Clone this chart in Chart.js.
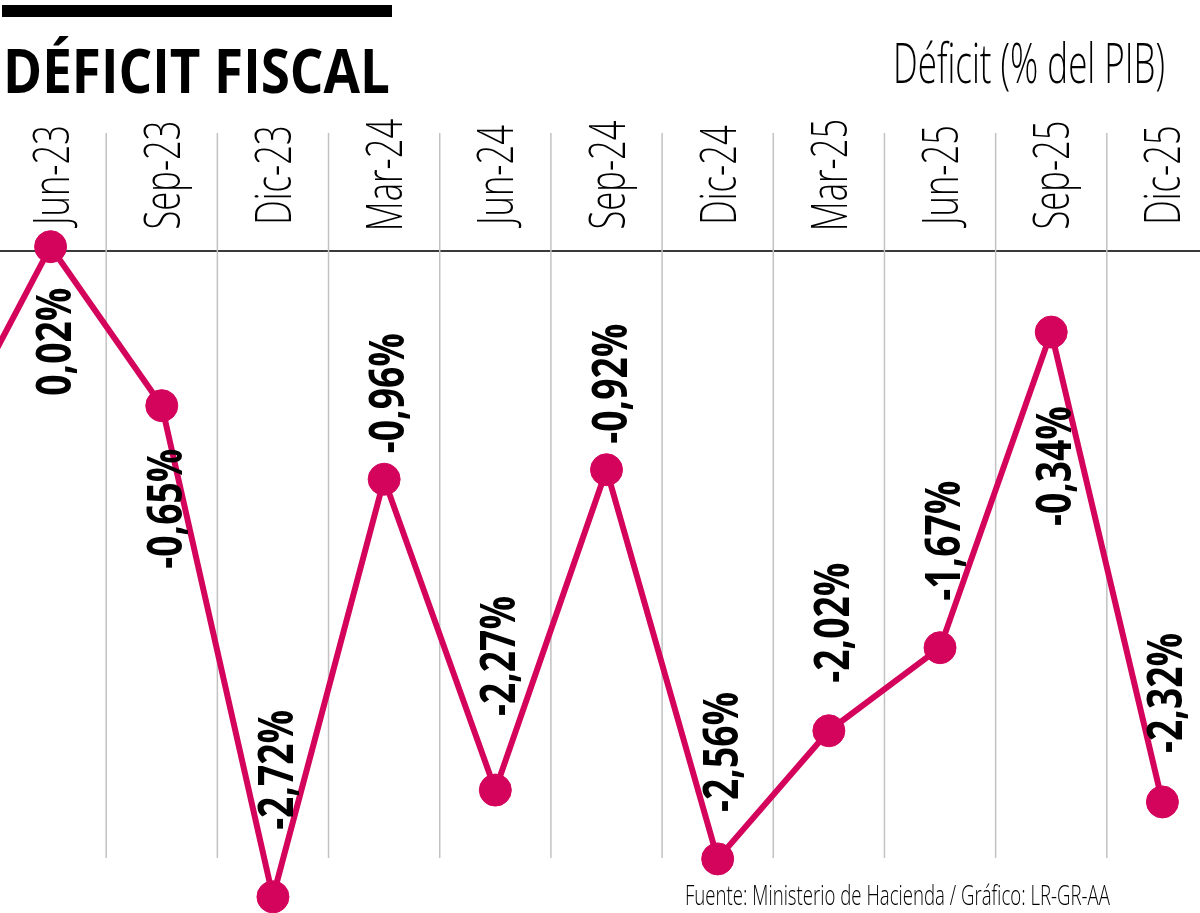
<!DOCTYPE html>
<html lang="es">
<head>
<meta charset="utf-8">
<title>Déficit fiscal</title>
<script src="https://cdn.jsdelivr.net/npm/chart.js@4.4.1/dist/chart.umd.min.js"></script>
<style>
  html, body { margin: 0; padding: 0; overflow: hidden; background: #fff; }
  #wrap { position: absolute; left: -5px; top: 0; width: 1223px; height: 913px; }
</style>
</head>
<body>
<div id="wrap"><canvas id="chart" width="1223" height="913"></canvas></div>
<script>
"use strict";

// first period sits off the left edge, only its segment shows
const periods = ["Mar-23", "Jun-23", "Sep-23", "Dic-23", "Mar-24", "Jun-24", "Sep-24",
  "Dic-24", "Mar-25", "Jun-25", "Sep-25", "Dic-25"];
const deficit = [-0.87, 0.02, -0.65, -2.72, -0.96, -2.27, -0.92, -2.56, -2.02, -1.67, -0.34, -2.32];
const yMin = -2.788;
const yMax = 0.499;

// gap from point to label, + below the point, - above it
const labelGaps = [0, 41, 43, -67, -26, -74, -26, -47, -48, -47, 74, -49];

const pink = "#d4045c";
const shift = 5; // canvas starts 5px left of the page
const gridBottom = 858;

const fmt = (v) => v.toFixed(2).replace(".", ",") + "%";

// draw text squeezed to a given width
const fitText = (ctx, text, x, y, width, align) => {
  const w = ctx.measureText(text).width;
  const f = width / w;
  ctx.save();
  ctx.translate(x, y);
  ctx.scale(f, 1);
  ctx.textAlign = align;
  ctx.fillText(text, 0, 0);
  ctx.restore();
};

const textPlugin = {
  id: "texts",
  beforeDatasetsDraw(chart) {
    // separators between periods, shorter than the plot area
    const ctx = chart.ctx;
    const xs = chart.scales.x;
    const top = chart.chartArea.top;
    ctx.save();
    ctx.strokeStyle = "#c2c2c2";
    ctx.lineWidth = 1.5;
    for (let i = 1; i < xs.ticks.length; i++) {
      const x = (xs.getPixelForTick(i - 1) + xs.getPixelForTick(i)) / 2;
      ctx.beginPath();
      ctx.moveTo(x, top);
      ctx.lineTo(x, gridBottom);
      ctx.stroke();
    }
    ctx.restore();
  },
  afterDraw(chart) {
    const ctx = chart.ctx;
    ctx.save();
    ctx.fillStyle = "#000";
    ctx.fillRect(2 + shift, 5, 390, 12);
    ctx.textBaseline = "alphabetic";
    ctx.font = "bold 60px 'Open Sans', sans-serif";
    fitText(ctx, "DÉFICIT FISCAL", 3 + shift, 93, 387, "left");
    ctx.font = "300 56px 'Open Sans', sans-serif";
    fitText(ctx, "Déficit (% del PIB)", 1165 + shift, 83, 272, "right");
    ctx.font = "300 28px 'Open Sans', sans-serif";
    fitText(ctx, "Fuente: Ministerio de Hacienda / Gráfico: LR-GR-AA", 1110 + shift, 905, 425, "right");

    // rotated period labels
    const xs = chart.scales.x;
    ctx.font = "300 50px 'Open Sans', sans-serif";
    const tf = 100 / ctx.measureText("Jun-23").width;
    xs.ticks.forEach((t, i) => {
      const x = xs.getPixelForTick(i);
      ctx.save();
      ctx.translate(x, 175);
      ctx.rotate(-Math.PI / 2);
      ctx.scale(tf, 1);
      ctx.textAlign = "center";
      ctx.fillText(xs.getLabelForValue(t.value), 0, 18);
      ctx.restore();
    });
    ctx.restore();
  },
  afterDatasetsDraw(chart) {
    const ctx = chart.ctx;
    const pts = chart.getDatasetMeta(0).data;
    ctx.save();
    ctx.fillStyle = "#000";
    ctx.font = "bold 49px 'Open Sans', sans-serif";
    const lf = 120 / ctx.measureText("-0,96%").width;
    pts.forEach((p, i) => {
      if (i === 0) return;
      const gap = labelGaps[i];
      ctx.save();
      ctx.translate(p.x, p.y + gap);
      ctx.rotate(-Math.PI / 2);
      ctx.scale(lf, 1);
      ctx.textAlign = gap > 0 ? "right" : "left";
      ctx.fillText(fmt(deficit[i]), 0, 20);
      ctx.restore();
    });
    ctx.restore();
  },
};

const config = {
  type: "line",
  data: {
    labels: periods,
    datasets: [
      {
        data: deficit,
        borderColor: pink,
        backgroundColor: pink,
        borderWidth: 6,
        pointRadius: 16,
        pointBorderWidth: 1,
        pointBackgroundColor: pink,
        pointBorderColor: pink,
        tension: 0,
        clip: false,
      },
    ],
  },
  options: {
    responsive: false,
    animation: false,
    layout: { padding: 0, autoPadding: false },
    plugins: {
      legend: { display: false },
      tooltip: { enabled: false },
    },
    scales: {
      x: {
        type: "category",
        position: "top",
        min: "Jun-23",
        offset: true,
        grid: { display: false },
        border: { display: false },
        ticks: { display: false },
        afterFit: (s) => {
          s.height = 133;
        },
      },
      y: {
        min: yMin,
        max: yMax,
        afterBuildTicks: (s) => {
          s.ticks = [{ value: 0 }];
        },
        afterFit: (s) => {
          s.width = 0;
        },
        grid: { color: "#3a3a3a", lineWidth: 2, drawTicks: false },
        border: { display: false },
        ticks: { display: false },
      },
    },
  },
  plugins: [textPlugin],
};

new Chart(document.getElementById("chart"), config);
</script>
</body>
</html>
